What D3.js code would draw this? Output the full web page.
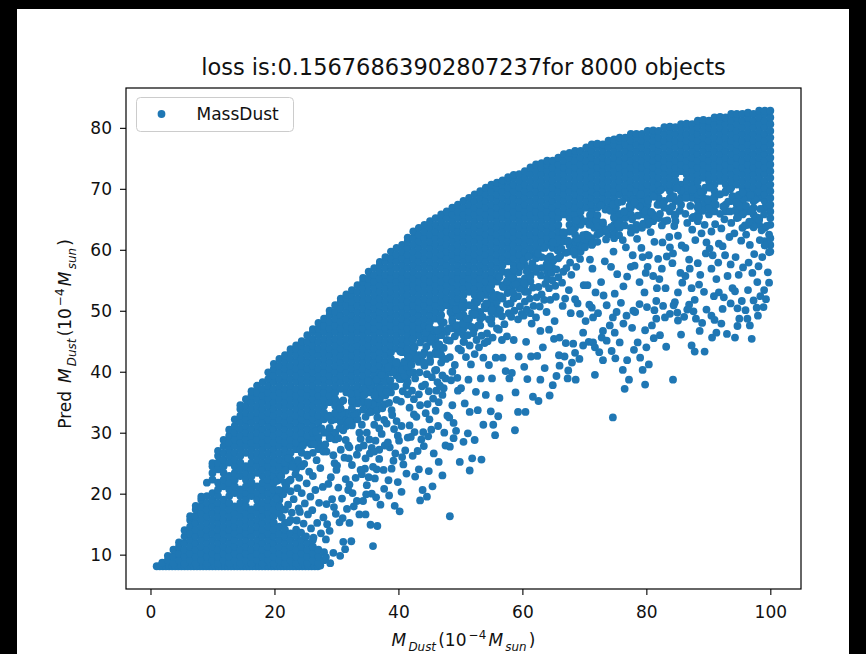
<!DOCTYPE html>
<html>
<head>
<meta charset="utf-8">
<script src="https://cdn.jsdelivr.net/npm/d3@7"></script>
<style>
html, body { margin: 0; padding: 0; background: #000; }
svg { display: block; }
text { font-family: "DejaVu Sans", sans-serif; fill: #111; }
</style>
</head>
<body>
<svg id="chart" width="866" height="654"></svg>
<script>
// chart texts
const title = "loss is:0.15676863902807237for 8000 objects";
const seriesName = "MassDust";
const xTicks = [0, 20, 40, 60, 80, 100];
const yTicks = [10, 20, 30, 40, 50, 60, 70, 80];

// floor of the cloud (small true mass, pred ~8)
const floorPts = [
  [1.0,8.1],[1.5,8.1],[2.0,8.1],[2.5,8.1],[3.0,8.1],[3.5,8.1],[4.0,8.1],[4.5,8.1],[5.0,8.1],[5.5,8.1],
  [6.0,8.1],[6.5,8.1],[7.0,8.1],[7.5,8.1],[8.0,8.1],[8.5,8.1],[9.0,8.1],[9.5,8.1],[10.0,8.1],[10.5,8.1],
  [11.0,8.1],[11.5,8.1],[12.0,8.1],[12.5,8.1],[13.0,8.1],[13.5,8.1],[14.0,8.1],[14.5,8.1],[15.0,8.1],[15.5,8.1],
  [16.0,8.1],[16.5,8.1],[17.0,8.1],[17.5,8.1],[18.0,8.1],[18.5,8.1],[19.0,8.1],[19.5,8.1],[20.0,8.1],[20.5,8.1],
  [21.0,8.1],[21.5,8.1],[22.0,8.1],[22.5,8.1],[23.0,8.1],[23.5,8.1],[24.0,8.1],[24.5,8.1],[25.0,8.1],[25.5,8.1],
  [26.0,8.1],[26.5,8.1],[27.0,8.1],[27.4,8.2]
];

// dense band, one entry per true-mass column: [x, pred, pred, ...]
const bandCols = [
  [1.9, 8.7],
  [2.8, 9.1, 9.8],
  [3.7, 8.6, 9.7, 10.8],
  [4.6, 9.1, 10.2, 11.3, 12.0],
  [5.5, 8.6, 9.7, 10.8, 11.9, 13.0, 14.0],
  [6.4, 9.1, 10.2, 11.3, 12.4, 13.5, 14.6, 15.7, 16.3],
  [7.3, 8.6, 9.7, 10.8, 11.9, 13.0, 14.1, 15.2, 16.3, 17.4, 18.0],
  [8.2, 9.1, 10.2, 11.3, 12.4, 13.5, 14.6, 15.7, 16.8, 17.9, 19.0, 19.5],
  [9.1, 8.6, 9.7, 10.8, 11.9, 13.0, 14.1, 15.2, 16.3, 17.4, 18.5, 19.6, 21.8],
  [10.0, 9.1, 10.2, 11.3, 12.4, 13.5, 14.6, 15.7, 16.8, 17.9, 19.0, 20.1, 22.3, 23.4, 24.5, 25.0],
  [10.9, 8.6, 9.7, 10.8, 11.9, 13.0, 14.1, 15.2, 16.3, 17.4, 18.5, 19.6, 20.7, 21.8, 24.0, 25.1, 26.2, 27.0],
  [11.8, 9.1, 10.2, 11.3, 12.4, 13.5, 14.6, 15.7, 16.8, 17.9, 19.0, 21.2, 22.3, 23.4, 24.5, 25.6, 26.7, 27.8, 28.8],
  [12.7, 8.6, 9.7, 10.8, 11.9, 13.0, 14.1, 15.2, 16.3, 17.4, 18.5, 19.6, 20.7, 21.8, 22.9, 25.1, 26.2, 27.3, 28.4, 29.5, 30.5],
  [13.6, 9.1, 10.2, 11.3, 12.4, 13.5, 14.6, 15.7, 16.8, 17.9, 20.1, 21.2, 22.3, 23.4, 24.5, 25.6, 26.7, 27.8, 28.9, 30.0, 31.1, 32.2],
  [14.5, 8.6, 9.7, 10.8, 11.9, 13.0, 14.1, 15.2, 16.3, 17.4, 18.5, 19.6, 20.7, 22.9, 24.0, 25.1, 26.2, 27.3, 28.4, 29.5, 30.6, 31.7, 32.8, 33.9, 34.5],
  [15.4, 9.1, 10.2, 11.3, 12.4, 13.5, 14.6, 15.7, 16.8, 17.9, 19.0, 20.1, 21.2, 22.3, 23.4, 24.5, 26.7, 27.8, 28.9, 30.0, 31.1, 32.2, 33.3, 34.4, 35.5],
  [16.3, 8.6, 9.7, 10.8, 11.9, 13.0, 14.1, 15.2, 16.3, 17.4, 19.6, 20.7, 21.8, 22.9, 24.0, 25.1, 26.2, 27.3, 28.4, 29.5, 30.6, 31.7, 32.8, 33.9, 35.0, 36.1, 36.8],
  [17.2, 9.1, 10.2, 11.3, 12.4, 13.5, 14.6, 15.7, 16.8, 17.9, 19.0, 20.1, 21.2, 23.4, 24.5, 25.6, 26.7, 27.8, 28.9, 30.0, 31.1, 32.2, 33.3, 34.4, 35.5, 36.6, 37.7],
  [18.1, 8.6, 9.7, 10.8, 11.9, 13.0, 14.1, 15.2, 16.3, 17.4, 18.5, 19.6, 20.7, 21.8, 22.9, 24.0, 25.1, 26.2, 27.3, 28.4, 29.5, 30.6, 31.7, 32.8, 33.9, 35.0, 36.1, 37.2, 38.3],
  [19.0, 9.1, 10.2, 11.3, 12.4, 13.5, 14.6, 15.7, 16.8, 17.9, 19.0, 20.1, 21.2, 22.3, 23.4, 24.5, 25.6, 26.7, 27.8, 28.9, 30.0, 31.1, 32.2, 33.3, 34.4, 35.5, 36.6, 37.7, 38.8, 39.9],
  [19.9, 8.6, 9.7, 10.8, 11.9, 13.0, 14.1, 15.2, 16.3, 17.4, 18.5, 19.6, 20.7, 21.8, 22.9, 24.0, 25.1, 26.2, 27.3, 28.4, 29.5, 30.6, 31.7, 32.8, 33.9, 35.0, 36.1, 37.2, 38.3, 39.4, 40.5, 41.3],
  [20.8, 9.1, 10.2, 11.3, 12.4, 13.5, 14.6, 16.8, 17.9, 19.0, 20.1, 22.3, 23.4, 24.5, 25.6, 26.7, 27.8, 28.9, 30.0, 31.1, 32.2, 33.3, 34.4, 35.5, 36.6, 37.7, 38.8, 39.9, 41.0, 42.1],
  [21.7, 8.6, 9.7, 10.8, 11.9, 13.0, 14.1, 15.2, 17.4, 20.7, 21.8, 24.0, 25.1, 26.2, 27.3, 28.4, 29.5, 30.6, 31.7, 32.8, 33.9, 35.0, 36.1, 37.2, 38.3, 39.4, 40.5, 41.6, 42.7],
  [22.6, 9.1, 10.2, 11.3, 12.4, 13.5, 15.7, 22.3, 24.5, 25.6, 26.7, 27.8, 28.9, 30.0, 31.1, 32.2, 33.3, 34.4, 35.5, 36.6, 37.7, 38.8, 39.9, 41.0, 42.1, 43.2, 43.7],
  [23.5, 8.6, 9.7, 10.8, 11.9, 13.0, 14.1, 24.0, 25.1, 27.3, 28.4, 29.5, 30.6, 31.7, 32.8, 33.9, 35.0, 36.1, 37.2, 38.3, 39.4, 40.5, 41.6, 42.7, 43.8, 44.3],
  [24.4, 9.1, 10.2, 11.3, 12.4, 24.5, 26.7, 27.8, 28.9, 30.0, 31.1, 32.2, 33.3, 34.4, 35.5, 36.6, 37.7, 38.8, 39.9, 41.0, 42.1, 43.2, 44.3, 45.0],
  [25.3, 8.6, 9.7, 10.8, 11.9, 26.2, 28.4, 29.5, 30.6, 31.7, 32.8, 33.9, 35.0, 36.1, 37.2, 38.3, 39.4, 40.5, 41.6, 42.7, 43.8, 44.9, 46.0],
  [26.2, 9.1, 10.2, 11.3, 12.4, 26.7, 28.9, 30.0, 31.1, 32.2, 33.3, 34.4, 35.5, 36.6, 37.7, 38.8, 39.9, 41.0, 42.1, 43.2, 44.3, 45.4, 46.5, 47.0],
  [27.1, 8.6, 9.7, 10.8, 27.3, 28.4, 30.6, 31.7, 32.8, 33.9, 35.0, 36.1, 37.2, 38.3, 39.4, 40.5, 41.6, 42.7, 43.8, 44.9, 46.0, 47.1, 48.0],
  [28.0, 9.1, 27.8, 30.0, 32.2, 33.3, 34.4, 35.5, 36.6, 37.7, 38.8, 39.9, 41.0, 42.1, 43.2, 44.3, 45.4, 46.5, 47.6, 48.7],
  [28.9, 29.5, 30.6, 32.8, 35.0, 36.1, 37.2, 38.3, 39.4, 40.5, 41.6, 42.7, 43.8, 44.9, 46.0, 47.1, 48.2, 49.3, 50.0],
  [29.8, 28.9, 30.0, 32.2, 33.3, 34.4, 35.5, 36.6, 37.7, 38.8, 39.9, 41.0, 42.1, 43.2, 44.3, 45.4, 46.5, 47.6, 48.7, 49.8, 50.9],
  [30.7, 31.7, 32.8, 33.9, 35.0, 37.2, 38.3, 39.4, 40.5, 41.6, 42.7, 43.8, 44.9, 46.0, 47.1, 48.2, 49.3, 50.4, 51.5, 52.0],
  [31.6, 31.1, 32.2, 33.3, 36.6, 37.7, 38.8, 39.9, 41.0, 42.1, 43.2, 44.3, 45.4, 46.5, 47.6, 48.7, 49.8, 50.9, 52.0, 52.7],
  [32.5, 31.7, 32.8, 35.0, 36.1, 37.2, 38.3, 39.4, 40.5, 41.6, 42.7, 43.8, 44.9, 46.0, 47.1, 48.2, 49.3, 50.4, 51.5, 52.6, 53.4],
  [33.4, 32.2, 33.3, 35.5, 36.6, 37.7, 38.8, 39.9, 41.0, 42.1, 43.2, 44.3, 45.4, 46.5, 47.6, 48.7, 49.8, 50.9, 52.0, 53.1, 54.2],
  [34.3, 35.0, 36.1, 37.2, 38.3, 39.4, 40.5, 41.6, 42.7, 43.8, 44.9, 46.0, 47.1, 48.2, 49.3, 50.4, 51.5, 52.6, 53.7, 54.8, 55.4],
  [35.2, 33.3, 34.4, 36.6, 37.7, 38.8, 39.9, 41.0, 42.1, 43.2, 44.3, 45.4, 46.5, 47.6, 48.7, 49.8, 50.9, 52.0, 53.1, 54.2, 55.3, 56.4],
  [36.1, 33.9, 35.0, 36.1, 37.2, 38.3, 39.4, 40.5, 41.6, 42.7, 43.8, 44.9, 46.0, 47.1, 48.2, 49.3, 50.4, 51.5, 52.6, 53.7, 54.8, 55.9, 57.0],
  [37.0, 34.4, 35.5, 36.6, 37.7, 38.8, 39.9, 41.0, 42.1, 43.2, 44.3, 45.4, 46.5, 47.6, 48.7, 49.8, 50.9, 52.0, 53.1, 54.2, 55.3, 56.4, 57.5, 58.0],
  [37.9, 36.1, 37.2, 38.3, 39.4, 40.5, 41.6, 42.7, 43.8, 44.9, 46.0, 47.1, 48.2, 49.3, 50.4, 51.5, 52.6, 53.7, 54.8, 55.9, 57.0, 58.1, 58.8],
  [38.8, 36.6, 37.7, 39.9, 41.0, 42.1, 43.2, 44.3, 45.4, 46.5, 47.6, 48.7, 49.8, 50.9, 52.0, 53.1, 54.2, 55.3, 56.4, 57.5, 58.6, 59.7],
  [39.7, 39.4, 40.5, 41.6, 43.8, 44.9, 46.0, 47.1, 48.2, 49.3, 50.4, 51.5, 52.6, 53.7, 54.8, 55.9, 57.0, 58.1, 59.2, 60.3],
  [40.6, 38.8, 39.9, 41.0, 43.2, 44.3, 45.4, 46.5, 47.6, 48.7, 49.8, 50.9, 52.0, 53.1, 54.2, 55.3, 56.4, 57.5, 58.6, 59.7, 60.8],
  [41.5, 38.3, 39.4, 40.5, 41.6, 42.7, 43.8, 44.9, 46.0, 47.1, 48.2, 49.3, 50.4, 51.5, 52.6, 53.7, 54.8, 55.9, 57.0, 58.1, 59.2, 60.3, 61.4, 62.0],
  [42.4, 39.9, 42.1, 43.2, 44.3, 45.4, 46.5, 47.6, 48.7, 49.8, 50.9, 52.0, 53.1, 54.2, 55.3, 56.4, 57.5, 58.6, 59.7, 60.8, 61.9, 63.0],
  [43.3, 41.6, 42.7, 46.0, 47.1, 48.2, 49.3, 50.4, 51.5, 52.6, 53.7, 54.8, 55.9, 57.0, 58.1, 59.2, 60.3, 61.4, 62.5, 63.6],
  [44.2, 41.0, 43.2, 45.4, 46.5, 47.6, 48.7, 49.8, 50.9, 52.0, 53.1, 54.2, 55.3, 56.4, 57.5, 58.6, 59.7, 60.8, 61.9, 63.0, 64.1],
  [45.1, 41.6, 42.7, 44.9, 46.0, 47.1, 48.2, 49.3, 50.4, 51.5, 52.6, 53.7, 54.8, 55.9, 57.0, 58.1, 59.2, 60.3, 61.4, 62.5, 63.6, 64.7],
  [46.0, 43.2, 44.3, 45.4, 46.5, 48.7, 49.8, 50.9, 52.0, 53.1, 54.2, 55.3, 56.4, 57.5, 58.6, 59.7, 60.8, 61.9, 63.0, 64.1, 65.2],
  [46.9, 42.7, 43.8, 46.0, 47.1, 48.2, 49.3, 50.4, 51.5, 52.6, 53.7, 54.8, 55.9, 57.0, 58.1, 59.2, 60.3, 61.4, 62.5, 63.6, 64.7, 65.8],
  [47.8, 46.5, 50.9, 52.0, 53.1, 54.2, 55.3, 56.4, 57.5, 58.6, 59.7, 60.8, 61.9, 63.0, 64.1, 65.2, 66.3],
  [48.7, 47.1, 48.2, 49.3, 50.4, 51.5, 52.6, 53.7, 54.8, 55.9, 57.0, 58.1, 59.2, 60.3, 61.4, 62.5, 63.6, 64.7, 65.8, 66.9],
  [49.6, 46.5, 47.6, 49.8, 50.9, 52.0, 53.1, 54.2, 55.3, 56.4, 57.5, 58.6, 59.7, 60.8, 61.9, 63.0, 64.1, 65.2, 66.3, 67.4],
  [50.5, 44.9, 46.0, 47.1, 48.2, 49.3, 50.4, 51.5, 52.6, 53.7, 54.8, 55.9, 57.0, 58.1, 59.2, 60.3, 61.4, 62.5, 63.6, 64.7, 65.8, 66.9, 68.0],
  [51.4, 47.6, 48.7, 50.9, 53.1, 54.2, 55.3, 56.4, 57.5, 58.6, 59.7, 60.8, 61.9, 63.0, 64.1, 65.2, 66.3, 67.4, 68.5],
  [52.3, 47.1, 49.3, 50.4, 51.5, 52.6, 53.7, 54.8, 55.9, 57.0, 58.1, 59.2, 60.3, 61.4, 62.5, 63.6, 64.7, 65.8, 66.9, 68.0, 69.1],
  [53.2, 47.6, 48.7, 49.8, 52.0, 53.1, 54.2, 55.3, 56.4, 57.5, 58.6, 59.7, 60.8, 61.9, 63.0, 64.1, 65.2, 66.3, 67.4, 68.5, 69.6],
  [54.1, 50.4, 52.6, 53.7, 54.8, 55.9, 57.0, 58.1, 59.2, 60.3, 61.4, 62.5, 63.6, 64.7, 65.8, 66.9, 68.0, 69.1, 70.2],
  [55.0, 48.7, 49.8, 50.9, 52.0, 53.1, 54.2, 55.3, 56.4, 57.5, 58.6, 59.7, 60.8, 61.9, 63.0, 64.1, 65.2, 66.3, 67.4, 68.5, 69.6, 70.7],
  [55.9, 50.4, 51.5, 52.6, 54.8, 55.9, 57.0, 58.1, 59.2, 60.3, 61.4, 62.5, 63.6, 64.7, 65.8, 66.9, 68.0, 69.1, 70.2, 71.0],
  [56.8, 52.0, 54.2, 56.4, 57.5, 58.6, 59.7, 60.8, 61.9, 63.0, 64.1, 65.2, 66.3, 67.4, 68.5, 69.6, 70.7, 71.4],
  [57.7, 53.7, 54.8, 55.9, 58.1, 59.2, 60.3, 61.4, 62.5, 63.6, 64.7, 65.8, 66.9, 68.0, 69.1, 70.2, 71.3, 71.9],
  [58.6, 52.0, 54.2, 55.3, 56.4, 57.5, 58.6, 59.7, 60.8, 61.9, 63.0, 64.1, 65.2, 66.3, 67.4, 68.5, 69.6, 70.7, 71.8, 72.3],
  [59.5, 53.7, 54.8, 57.0, 58.1, 59.2, 60.3, 61.4, 62.5, 63.6, 64.7, 65.8, 66.9, 68.0, 69.1, 70.2, 71.3, 72.4],
  [60.4, 53.1, 54.2, 55.3, 57.5, 58.6, 59.7, 60.8, 61.9, 63.0, 64.1, 65.2, 66.3, 67.4, 68.5, 69.6, 70.7, 71.8, 72.9],
  [61.3, 54.8, 55.9, 57.0, 59.2, 60.3, 61.4, 62.5, 63.6, 64.7, 65.8, 66.9, 68.0, 69.1, 70.2, 71.3, 72.4, 73.5],
  [62.2, 56.4, 58.6, 59.7, 60.8, 61.9, 63.0, 64.1, 65.2, 66.3, 67.4, 68.5, 69.6, 70.7, 71.8, 72.9, 74.0],
  [63.1, 57.0, 60.3, 61.4, 62.5, 63.6, 64.7, 65.8, 66.9, 68.0, 69.1, 70.2, 71.3, 72.4, 73.5, 74.2],
  [64.0, 55.3, 56.4, 57.5, 58.6, 60.8, 61.9, 63.0, 64.1, 65.2, 66.3, 67.4, 68.5, 69.6, 70.7, 71.8, 72.9, 74.0, 74.6],
  [64.9, 57.0, 58.1, 60.3, 61.4, 62.5, 63.6, 64.7, 65.8, 66.9, 68.0, 69.1, 70.2, 71.3, 72.4, 73.5, 74.6],
  [65.8, 58.6, 60.8, 61.9, 63.0, 64.1, 65.2, 66.3, 67.4, 68.5, 69.6, 70.7, 71.8, 72.9, 74.0, 75.1],
  [66.7, 61.4, 62.5, 65.8, 66.9, 68.0, 69.1, 70.2, 71.3, 72.4, 73.5, 74.6, 75.7],
  [67.6, 59.7, 60.8, 63.0, 64.1, 65.2, 66.3, 67.4, 68.5, 69.6, 70.7, 71.8, 72.9, 74.0, 75.1, 75.9],
  [68.5, 59.2, 60.3, 61.4, 62.5, 63.6, 64.7, 65.8, 66.9, 68.0, 69.1, 70.2, 71.3, 72.4, 73.5, 74.6, 75.7, 76.2],
  [69.4, 59.7, 60.8, 61.9, 64.1, 65.2, 66.3, 67.4, 68.5, 69.6, 70.7, 71.8, 72.9, 74.0, 75.1, 76.2],
  [70.3, 61.4, 62.5, 64.7, 66.9, 68.0, 69.1, 70.2, 71.3, 72.4, 73.5, 74.6, 75.7, 76.8],
  [71.2, 60.8, 61.9, 64.1, 65.2, 66.3, 67.4, 68.5, 69.6, 70.7, 71.8, 72.9, 74.0, 75.1, 76.2, 77.3],
  [72.1, 62.5, 63.6, 64.7, 66.9, 68.0, 69.1, 70.2, 71.3, 72.4, 73.5, 74.6, 75.7, 76.8, 77.4],
  [73.0, 63.0, 64.1, 67.4, 68.5, 69.6, 70.7, 71.8, 72.9, 74.0, 75.1, 76.2, 77.3],
  [73.9, 62.5, 66.9, 68.0, 69.1, 70.2, 71.3, 72.4, 73.5, 74.6, 75.7, 76.8, 77.9],
  [74.8, 61.9, 63.0, 64.1, 65.2, 66.3, 67.4, 68.5, 69.6, 70.7, 71.8, 72.9, 74.0, 75.1, 76.2, 77.3, 78.1],
  [75.7, 63.6, 64.7, 65.8, 69.1, 70.2, 71.3, 72.4, 73.5, 74.6, 75.7, 76.8, 77.9, 78.4],
  [76.6, 65.2, 66.3, 68.5, 69.6, 70.7, 71.8, 72.9, 74.0, 75.1, 76.2, 77.3, 78.4],
  [77.5, 63.6, 65.8, 66.9, 68.0, 69.1, 70.2, 71.3, 72.4, 73.5, 74.6, 75.7, 76.8, 77.9, 79.0],
  [78.4, 64.1, 67.4, 68.5, 69.6, 70.7, 71.8, 72.9, 74.0, 75.1, 76.2, 77.3, 78.4, 79.0],
  [79.3, 63.6, 65.8, 66.9, 68.0, 69.1, 70.2, 71.3, 72.4, 73.5, 74.6, 75.7, 76.8, 77.9, 79.0],
  [80.2, 64.1, 65.2, 66.3, 67.4, 68.5, 69.6, 70.7, 71.8, 72.9, 74.0, 75.1, 76.2, 77.3, 78.4, 79.5],
  [81.1, 64.7, 65.8, 69.1, 70.2, 71.3, 72.4, 73.5, 74.6, 75.7, 76.8, 77.9, 79.0, 79.6],
  [82.0, 65.2, 67.4, 68.5, 69.6, 70.7, 71.8, 72.9, 74.0, 75.1, 76.2, 77.3, 78.4, 79.5],
  [82.9, 64.7, 66.9, 68.0, 70.2, 71.3, 72.4, 73.5, 74.6, 75.7, 76.8, 77.9, 79.0, 80.1],
  [83.8, 66.3, 68.5, 69.6, 70.7, 71.8, 72.9, 74.0, 75.1, 76.2, 77.3, 78.4, 79.5, 80.2],
  [84.7, 64.7, 65.8, 68.0, 70.2, 71.3, 72.4, 73.5, 74.6, 75.7, 76.8, 77.9, 79.0, 80.1],
  [85.6, 67.4, 68.5, 69.6, 70.7, 72.9, 74.0, 75.1, 76.2, 77.3, 78.4, 79.5, 80.6],
  [86.5, 69.1, 70.2, 71.3, 72.4, 73.5, 74.6, 75.7, 76.8, 77.9, 79.0, 80.1, 80.7],
  [87.4, 65.2, 68.5, 69.6, 70.7, 71.8, 72.9, 74.0, 75.1, 76.2, 77.3, 78.4, 79.5, 80.6],
  [88.3, 64.7, 65.8, 66.9, 68.0, 69.1, 70.2, 71.3, 72.4, 73.5, 74.6, 75.7, 76.8, 77.9, 79.0, 80.1, 81.2],
  [89.2, 67.4, 68.5, 69.6, 71.8, 72.9, 74.0, 75.1, 76.2, 77.3, 78.4, 79.5, 80.6, 81.3],
  [90.1, 65.8, 66.9, 68.0, 70.2, 71.3, 72.4, 73.5, 74.6, 75.7, 76.8, 77.9, 79.0, 80.1, 81.2],
  [91.0, 66.3, 67.4, 68.5, 69.6, 70.7, 71.8, 72.9, 74.0, 75.1, 76.2, 77.3, 78.4, 79.5, 80.6, 81.7],
  [91.9, 69.1, 71.3, 72.4, 73.5, 74.6, 75.7, 76.8, 77.9, 79.0, 80.1, 81.2, 81.8],
  [92.8, 66.3, 67.4, 69.6, 70.7, 71.8, 72.9, 74.0, 75.1, 76.2, 77.3, 78.4, 79.5, 80.6, 81.7],
  [93.7, 68.0, 70.2, 71.3, 72.4, 73.5, 74.6, 75.7, 76.8, 77.9, 79.0, 80.1, 81.2, 82.3],
  [94.6, 65.2, 66.3, 67.4, 68.5, 70.7, 71.8, 72.9, 74.0, 75.1, 76.2, 77.3, 78.4, 79.5, 80.6, 81.7, 82.3],
  [95.5, 63.6, 65.8, 66.9, 68.0, 69.1, 70.2, 71.3, 72.4, 73.5, 74.6, 75.7, 76.8, 77.9, 79.0, 80.1, 81.2, 82.3],
  [96.4, 64.1, 66.3, 68.5, 69.6, 70.7, 71.8, 72.9, 74.0, 75.1, 76.2, 77.3, 78.4, 79.5, 80.6, 81.7, 82.5],
  [97.3, 64.7, 65.8, 66.9, 68.0, 69.1, 70.2, 71.3, 72.4, 73.5, 74.6, 75.7, 76.8, 77.9, 79.0, 80.1, 81.2, 82.3],
  [98.2, 64.1, 65.2, 68.5, 69.6, 70.7, 71.8, 72.9, 74.0, 75.1, 76.2, 77.3, 78.4, 79.5, 80.6, 81.7, 82.8],
  [99.1, 61.4, 63.6, 66.9, 68.0, 69.1, 70.2, 71.3, 72.4, 73.5, 74.6, 75.7, 76.8, 77.9, 79.0, 80.1, 81.2, 82.3, 82.8],
  [100.0, 59.7, 60.8, 61.9, 64.1, 65.2, 66.3, 67.4, 68.5, 69.6, 70.7, 71.8, 72.9, 74.0, 75.1, 76.2, 77.3, 78.4, 79.5, 80.6, 81.7, 82.8]
];

// loose points right of the low blob (true 20-28)
const scatterLeft = [
  [21.2,16.1],[20.3,19.2],[21.4,19.9],[20.7,20.6],[21.9,21.3],[20.4,22.1],[21.1,22.9],[21.8,23.8],
  [22.3,15.3],[23.6,15.6],[22.8,16.9],[23.9,17.6],[22.2,18.2],[23.1,19.1],[22.6,20.4],[23.7,20.9],[22.4,22.1],[23.4,23.2],[22.9,24.4],[23.8,25.5],[22.2,25.8],
  [24.3,13.6],[25.1,13.0],[25.9,14.3],[24.7,15.1],[25.4,16.6],[24.1,17.0],[24.9,18.4],[25.8,19.5],[24.4,20.1],[25.2,21.7],[24.0,22.6],[25.6,23.6],[24.8,24.9],[25.3,26.4],[24.2,27.2],[25.9,28.1],[24.6,27.9],
  [26.3,12.8],[27.5,13.5],[26.9,15.2],[27.9,16.1],[26.1,17.3],[27.2,18.5],[26.6,20.6],[27.8,21.1],[26.2,22.9],[27.4,24.2],[26.8,25.5],[27.9,26.9],[26.4,28.1],[27.1,29.3],[26.7,30.2],[27.6,30.7],
  [28.0,10.4],[29.0,8.6]
];

// loose points under the band (true 28-66)
const scatterMid = [
  [28.3,9.6],[29.5,10.3],[28.3,12.5],[28.5,15.0],[29.9,16.7],[29.3,19.1],[28.7,21.6],[29.7,25.0],[29.5,26.3],[28.4,26.9],[28.2,28.1],[28.9,29.1],[28.5,30.1],[28.9,30.8],[29.2,32.0],[28.6,32.6],
  [30.6,9.8],[31.4,10.9],[31.1,12.1],[30.5,15.3],[31.7,17.5],[30.3,21.0],[31.5,22.4],[31.3,25.9],[30.7,27.2],[31.9,27.9],[31.5,28.8],[30.3,29.1],[31.1,30.4],[30.5,30.7],[31.9,31.8],[30.9,33.2],[30.6,34.0],[31.1,35.3],
  [32.4,12.2],[32.1,15.2],[33.7,16.6],[33.3,18.8],[32.1,21.5],[32.5,24.7],[33.3,26.4],[32.1,27.6],[33.9,29.0],[33.7,30.0],[32.5,31.2],[32.1,31.9],[32.9,33.1],[32.5,34.0],[33.4,34.8],[32.5,35.3],[32.3,36.4],
  [35.9,11.4],[35.5,14.9],[34.7,16.6],[34.3,18.8],[35.7,20.0],[35.2,22.7],[34.6,24.1],[34.7,25.8],[35.7,27.5],[34.4,27.9],[35.3,28.9],[34.9,30.0],[34.1,31.3],[34.7,32.6],[35.6,33.4],[34.3,33.8],[35.9,34.6],[35.1,35.0],[34.5,36.2],[35.4,36.8],[34.7,37.3],[35.5,37.8],[35.1,38.4],
  [36.6,14.7],[37.1,18.2],[36.4,19.4],[37.7,20.8],[36.5,24.0],[36.9,27.2],[36.3,28.7],[37.3,29.8],[36.9,30.7],[36.1,31.3],[37.7,32.1],[36.6,32.5],[36.5,33.6],[37.4,34.0],[37.9,34.7],[36.8,35.6],[36.2,36.1],[37.4,36.5],[37.1,37.3],[36.5,38.7],[37.3,39.5],
  [39.4,18.0],[38.5,19.7],[39.9,21.9],[39.2,25.4],[38.6,27.6],[39.9,29.5],[38.1,31.5],[39.7,31.9],[39.0,32.9],[38.9,33.7],[38.5,34.9],[39.7,35.4],[38.1,36.7],[39.5,37.6],[38.7,38.6],[39.1,40.0],[38.3,40.7],[39.6,41.5],
  [40.2,17.1],[40.5,20.3],[41.3,23.3],[40.6,26.0],[41.5,29.2],[40.5,31.1],[41.8,34.1],[40.4,35.1],[41.5,36.3],[40.7,36.8],[41.3,37.7],[40.2,38.8],[41.0,39.4],[41.9,39.9],[40.6,40.3],[41.4,40.8],[40.9,41.6],[41.6,42.4],[40.3,43.3],
  [43.5,18.9],[43.9,20.6],[42.7,22.8],[43.3,24.0],[42.3,26.2],[43.7,28.9],[42.6,30.1],[42.9,32.6],[43.5,34.5],[42.5,35.5],[43.3,36.3],[42.2,36.9],[43.8,37.6],[42.7,38.9],[43.4,39.9],[42.1,41.1],[43.0,42.1],[43.9,42.7],[42.6,44.0],[43.5,44.8],[42.3,45.4],
  [44.6,19.5],[45.5,21.2],[44.9,23.7],[45.7,26.6],[44.1,27.8],[45.3,30.5],[44.4,33.2],[44.7,34.7],[45.6,35.6],[44.9,36.8],[44.3,37.9],[45.4,39.1],[44.6,39.6],[45.9,40.2],[44.1,41.5],[45.1,41.9],[45.9,42.9],[44.5,44.1],[45.3,45.5],[44.4,46.4],[45.7,46.8],[45.0,47.2],
  [47.1,23.0],[46.5,25.2],[47.6,27.9],[46.4,31.1],[47.9,32.8],[47.1,36.2],[46.1,36.9],[47.3,37.3],[46.7,37.7],[46.3,38.3],[47.6,38.9],[47.1,39.4],[46.1,40.3],[46.9,41.5],[47.7,42.1],[46.4,42.9],[47.3,43.9],[46.6,44.5],[47.8,45.2],[46.9,46.0],[46.3,46.8],[47.3,48.1],[46.7,48.6],
  [48.3,16.3],[49.9,25.2],[48.3,27.7],[48.9,29.1],[49.3,30.3],[48.2,32.5],[48.7,34.5],[49.6,36.9],[48.5,38.6],[49.5,39.0],[48.7,40.0],[49.1,41.1],[48.3,42.4],[49.7,43.8],[48.3,45.1],[49.1,45.8],[48.1,47.1],[49.4,47.6],[48.7,48.6],[49.8,49.1],[48.4,49.8],[49.3,50.2],
  [51.5,23.8],[51.9,25.8],[50.5,28.5],[51.2,29.9],[51.5,33.4],[50.7,34.8],[50.1,37.3],[51.3,38.7],[51.7,41.2],[50.9,42.4],[50.1,43.5],[51.5,44.3],[50.6,44.9],[51.2,46.0],[51.9,47.3],[50.4,47.9],[51.0,48.7],[51.9,49.6],[50.3,50.7],
  [53.4,25.6],[52.3,28.8],[53.7,31.3],[52.8,33.7],[52.5,36.7],[53.3,38.9],[53.7,42.3],[52.3,42.9],[53.0,44.0],[53.9,44.7],[52.6,45.2],[53.4,45.9],[52.1,46.3],[52.9,47.6],[53.6,49.0],[52.3,49.5],[53.9,50.8],[52.7,51.4],[53.3,52.5],
  [55.6,29.6],[55.3,31.3],[54.9,33.5],[54.1,36.2],[55.1,38.9],[54.6,41.1],[55.7,42.3],[54.4,45.0],[55.2,45.6],[54.3,46.3],[55.9,47.1],[55.0,47.9],[54.6,48.6],[55.9,49.5],[55.1,50.1],[54.2,51.2],[55.5,52.3],[54.7,53.6],
  [56.1,32.7],[56.3,35.7],[57.9,38.9],[57.3,40.1],[56.8,42.3],[56.7,45.2],[57.5,45.8],[56.2,46.9],[57.1,47.8],[56.7,49.1],[57.8,49.6],[56.4,50.1],[57.5,51.1],[56.5,52.4],[57.6,52.9],[56.9,53.9],[57.5,54.8],[56.3,55.5],[57.7,56.3],
  [58.8,30.4],[59.3,33.4],[58.9,36.6],[58.3,39.8],[59.4,42.5],[58.6,45.2],[59.3,48.6],[58.2,49.0],[59.9,49.5],[58.7,50.0],[59.6,50.7],[58.1,51.2],[59.3,52.4],[58.5,53.0],[59.8,53.6],[58.9,54.4],[58.3,55.4],[59.4,56.3],[58.6,56.8],[59.7,57.3],
  [60.5,33.4],[61.7,35.9],[60.8,38.8],[60.3,40.8],[61.4,42.5],[60.6,44.9],[61.5,47.9],[60.2,49.2],[61.3,49.6],[60.7,50.2],[61.8,50.8],[60.4,51.5],[61.2,52.0],[60.9,53.1],[61.7,53.8],[60.3,54.5],[61.3,55.7],[60.7,56.5],[61.6,57.8],[60.2,58.3],[61.0,58.9],
  [62.6,35.2],[62.9,38.7],[63.6,40.6],[62.4,42.6],[63.3,44.0],[62.9,46.7],[62.2,48.9],[63.9,49.8],[62.8,50.7],[63.5,51.8],[62.3,52.2],[63.1,52.7],[62.6,53.9],[63.7,54.4],[63.0,55.8],[62.2,57.0],[63.9,57.6],[63.1,58.8],[62.5,59.4],[63.6,60.3],
  [64.4,36.1],[64.9,37.8],[65.5,39.3],[65.9,42.7],[65.1,45.4],[64.3,46.9],[65.2,48.3],[64.5,51.8],[65.4,52.3],[64.3,53.7],[65.3,54.1],[64.8,55.0],[65.8,55.5],[64.7,56.2],[65.5,56.8],[64.2,57.2],[65.1,58.4],[64.5,58.9],[65.7,59.9],[64.9,61.2],
  [28.9,13.9],[29.6,17.8],[28.4,18.3],[29.1,22.7],[30.0,23.9],[30.9,19.2],[31.9,20.6],[30.1,24.6],[31.0,16.0],[32.8,17.9],[33.1,22.6],[32.6,20.1],[33.9,23.9],[32.0,25.8],[33.6,27.5],
  [34.9,21.4],[34.1,23.2],[35.9,24.4],[35.4,26.6],[34.8,19.9],[36.2,22.5],[37.6,23.9],[36.9,25.7],[37.8,27.9],[36.1,26.9],[38.4,22.2],[38.9,24.1],[39.5,26.6],[38.3,28.4],[39.3,30.6],
  [40.1,28.7],[41.1,27.1],[40.8,24.8],[41.8,31.2],[42.0,29.3],[43.1,27.0],[42.5,33.0],[44.0,30.1],[45.0,32.2],[44.8,29.4],[46.0,33.6],[47.4,30.0],[46.5,35.0],[48.9,31.6]
];

// loose points under the band, lower part (true 66-100)
const scatterLow = [
  [74.6,32.5],[76.5,37.2],[79.8,37.9],[84.3,38.7],[89.4,43.3],[97.0,45.4],[67.3,38.9],[68.6,38.7],[71.7,39.5],[73.0,41.9],
  [76.2,40.3],[77.2,38.7],[79.4,40.3],[80.4,41.2],[79.0,42.3],[76.9,41.9],[87.3,44.3],[87.8,43.3],[90.6,45.6],[91.3,46.4],
  [93.0,46.2],[94.3,45.6],[96.7,47.6],[95.0,48.7],[98.0,49.2],[97.8,50.5],[92.3,50.3],[90.5,49.2],[89.0,48.0],[88.0,48.7],
  [85.0,49.7],[85.1,48.4],[83.8,49.5],[82.2,46.0],[80.9,47.6],[81.6,48.7],[82.7,50.8],[79.8,46.8],[78.6,44.8],[80.0,44.0],
  [77.7,47.2],[77.9,50.0],[76.8,49.2],[74.6,48.9],[74.1,47.6],[74.9,46.4],[75.7,44.8],[74.4,43.4],[72.8,45.6],[71.4,44.8],
  [71.7,44.0],[73.0,46.7],[71.4,48.9],[71.2,50.5],[69.3,49.5],[69.8,46.4],[69.8,44.3],[68.5,43.1],[68.2,44.6],[66.0,45.6],
  [66.8,42.5],[67.4,40.2],[68.0,41.5],[66.0,41.0],[99.0,53.4],[73.6,45.1],
  [66.5,50.8],[67.8,49.6],[68.9,51.2],[70.2,48.3],[70.8,51.0],[72.2,49.6],[73.6,50.9],[75.2,49.8],[75.9,51.3],[76.3,47.9],
  [78.2,49.8],[78.9,51.1],[80.1,50.6],[81.3,50.1],[83.0,48.9],[84.4,50.9],[86.1,49.0],[86.9,51.0],[87.6,49.9],[89.7,50.2],
  [91.0,48.5],[93.6,51.2],[94.7,47.5],[96.0,50.1],[96.3,48.7],[99.3,51.9],
  [67.0,44.7],[69.2,42.1],[70.7,44.9],[72.4,43.2],[75.0,42.2],[78.0,43.6],[81.2,45.5],[83.2,44.1],[85.6,46.1],[88.6,46.7],[92.1,47.9]
];

// loose points under the band, upper part (true 66-100)
const scatterHigh = [
  [66.9,52.0],[67.5,53.4],[66.4,54.6],[67.9,55.9],[66.6,56.4],[67.1,57.0],[67.7,57.9],[66.1,59.0],[67.0,59.5],[66.3,60.2],[67.4,61.5],[66.6,62.9],
  [68.5,51.9],[69.9,54.2],[68.7,57.2],[69.3,58.5],[68.3,59.7],[69.6,60.5],[68.8,61.8],[69.8,62.4],[68.1,63.2],[69.4,64.3],[68.7,64.8],
  [70.5,54.2],[71.3,56.9],[70.1,60.4],[71.3,61.0],[70.6,62.3],[71.6,63.6],[70.8,64.1],[71.9,64.8],[70.9,65.7],[71.8,53.0],[70.9,58.4],
  [73.1,52.5],[72.7,54.7],[73.3,58.1],[72.1,61.3],[73.5,61.7],[72.5,62.7],[73.6,63.3],[72.2,63.9],[73.0,64.5],[72.1,65.7],[73.4,66.6],[72.6,67.3],
  [74.9,52.8],[75.3,56.0],[74.3,57.2],[74.7,59.7],[75.6,62.4],[74.3,63.7],[75.4,64.2],[74.8,65.4],[75.7,65.9],[74.2,66.4],[75.1,66.9],[74.6,67.4],[75.5,67.8],
  [76.3,54.0],[77.5,57.2],[76.7,60.4],[77.5,62.8],[76.5,64.0],[77.7,65.0],[76.4,66.3],[77.3,67.2],[76.1,67.9],[77.9,68.3],[76.9,55.6],[77.8,59.1],[76.2,61.6],
  [79.7,53.0],[78.9,54.7],[78.1,57.4],[79.2,60.3],[78.3,63.3],[79.5,64.3],[78.6,65.6],[79.8,66.4],[78.9,67.1],[78.1,67.8],[79.1,69.1],[79.4,58.8],[78.5,61.8],[79.9,56.2],
  [81.7,53.7],[81.1,55.7],[80.4,59.1],[81.3,61.3],[80.5,64.5],[81.5,65.4],[80.8,66.2],[81.8,67.4],[80.3,68.1],[81.2,68.7],[80.2,57.2],[81.9,58.5],[80.7,62.9],[81.6,51.6],
  [83.1,53.7],[82.5,56.9],[83.3,58.9],[83.7,62.1],[82.5,64.0],[83.4,64.8],[82.2,65.9],[83.5,66.8],[82.7,67.5],[83.8,68.4],[82.3,69.8],[82.1,55.2],[83.8,60.4],[82.6,61.2],
  [85.1,53.0],[85.5,56.2],[84.3,59.4],[85.1,62.3],[84.6,65.5],[85.4,66.4],[84.2,67.1],[85.2,68.1],[84.4,68.8],[85.6,69.7],[84.9,70.1],[84.6,51.4],[85.8,54.6],[84.2,57.8],[85.7,60.7],[84.5,63.9],
  [87.3,53.7],[86.3,55.7],[87.0,56.9],[86.3,60.3],[87.4,63.3],[86.6,64.4],[87.6,65.4],[86.3,65.9],[87.1,67.2],[86.4,68.5],[87.5,69.9],[86.6,50.2],[87.8,51.8],[86.9,58.4],[87.9,61.6],
  [89.3,53.1],[88.5,54.3],[88.3,57.8],[89.7,61.2],[88.9,62.7],[89.4,64.1],[88.5,65.4],[89.1,66.4],[88.3,67.1],[89.9,68.3],[88.8,69.5],[89.5,70.2],[88.7,55.9],[89.6,59.4],
  [91.7,53.0],[91.3,55.2],[90.5,56.9],[90.7,59.1],[91.7,61.0],[90.5,63.0],[91.9,65.9],[90.1,66.8],[91.2,67.4],[90.9,68.6],[91.8,69.1],[90.3,70.2],[90.9,52.4],[91.6,57.9],[90.2,60.2],[91.1,64.2],
  [93.9,53.7],[93.1,55.7],[92.7,59.1],[93.4,62.1],[92.1,63.5],[93.7,64.4],[92.6,65.0],[93.5,66.3],[92.4,67.1],[93.2,67.9],[93.9,68.8],[92.7,69.4],[93.5,69.9],[92.5,52.2],[93.6,57.6],[92.3,60.6],
  [94.3,53.2],[94.9,55.9],[95.6,57.1],[94.4,58.8],[95.3,61.5],[94.2,62.7],[95.9,64.0],[94.8,65.3],[95.6,65.9],[94.3,66.4],[95.2,67.1],[94.5,67.8],[95.7,68.4],[94.9,69.0],[95.5,69.4],[95.4,51.6],[94.7,50.4],
  [97.3,51.7],[97.9,54.7],[96.5,57.9],[97.4,59.3],[96.1,62.5],[97.3,63.7],[96.6,64.6],[97.8,65.3],[96.9,66.5],[96.1,67.2],[97.6,68.2],[96.8,69.0],[96.4,53.4],[97.1,56.2],[96.7,60.8],
  [98.9,50.6],[98.4,52.4],[99.8,54.6],[98.1,57.3],[99.1,60.7],[98.3,61.6],[99.8,62.5],[98.6,63.2],[99.4,63.9],[98.2,64.9],[99.0,65.8],[98.4,66.7],[99.6,56.3],[98.7,58.8],[99.8,59.6]
];

// flatten everything into [true, pred] pairs
const bandPts = bandCols.flatMap(c => c.slice(1).map(v => [c[0], v]));
const points = floorPts.concat(bandPts, scatterLeft, scatterMid, scatterLow, scatterHigh);

const W = 866, H = 654;
const axL = 126, axR = 801, axT = 88, axB = 589;
const blue = "#1f77b4";

const svg = d3.select("#chart");

// white figure area on black
svg.append("rect").attr("x", 17).attr("y", 9).attr("width", 832).attr("height", H - 9).attr("fill", "#fff");

// matplotlib-like 5% margins
const xExt = d3.extent(points, d => d[0]);
const yExt = d3.extent(points, d => d[1]);
const xPad = (xExt[1] - xExt[0]) * 0.05, yPad = (yExt[1] - yExt[0]) * 0.05;
const x = d3.scaleLinear().domain([xExt[0] - xPad, xExt[1] + xPad]).range([axL, axR]);
const y = d3.scaleLinear().domain([yExt[0] - yPad, yExt[1] + yPad]).range([axB, axT]);

svg.append("g")
  .selectAll("circle")
  .data(points)
  .join("circle")
  .attr("cx", d => x(d[0]))
  .attr("cy", d => y(d[1]))
  .attr("r", 3.9)
  .attr("fill", blue);

// axes
const xAxis = svg.append("g")
  .attr("transform", `translate(0,${axB})`)
  .call(d3.axisBottom(x).tickValues(xTicks).tickSize(6).tickPadding(11));
const yAxis = svg.append("g")
  .attr("transform", `translate(${axL},0)`)
  .call(d3.axisLeft(y).tickValues(yTicks).tickSize(6).tickPadding(8));
[xAxis, yAxis].forEach(a => {
  a.select(".domain").remove();
  a.selectAll(".tick line").attr("stroke", "#000").attr("stroke-width", 1.1);
  a.selectAll(".tick text").attr("font-size", 17).attr("font-family", "DejaVu Sans").attr("fill", "#111");
});

svg.append("rect")
  .attr("x", axL).attr("y", axT)
  .attr("width", axR - axL).attr("height", axB - axT)
  .attr("fill", "none").attr("stroke", "#000").attr("stroke-width", 1.2);

// title
svg.append("text")
  .attr("x", (axL + axR) / 2).attr("y", 75)
  .attr("text-anchor", "middle")
  .attr("font-size", 22.5)
  .text(title);

// mathtext-style labels
function mathText(sel, parts, size) {
  let shift = 0;
  parts.forEach((p, i) => {
    const target = p.sub ? size * 0.28 : p.sup ? -size * 0.42 : 0;
    sel.append("tspan")
      .attr("dx", i === 0 ? 0 : (p.gap || 2.2))
      .attr("dy", target - shift)
      .attr("font-size", p.sub || p.sup ? size * 0.7 : size)
      .attr("font-style", p.it ? "italic" : "normal")
      .text(p.t);
    shift = target;
  });
}
const massParts = [
  { t: "M", it: true }, { t: "Dust", it: true, sub: true },
  { t: "(10" }, { t: "\u22124", sup: true },
  { t: "M", it: true }, { t: "sun", it: true, sub: true }, { t: ")" }
];

const xl = svg.append("text")
  .attr("x", (axL + axR) / 2).attr("y", 646)
  .attr("text-anchor", "middle");
mathText(xl, massParts, 17);

const yl = svg.append("text")
  .attr("transform", `translate(71,334) rotate(-90)`)
  .attr("text-anchor", "middle");
mathText(yl, [{ t: "Pred" }, { t: "M", it: true, gap: 8 }].concat(massParts.slice(1)), 17);

// legend
const lg = svg.append("g");
lg.append("rect")
  .attr("x", 136.5).attr("y", 97.5).attr("width", 157).attr("height", 34).attr("rx", 4)
  .attr("fill", "#fff").attr("fill-opacity", 0.8)
  .attr("stroke", "#ccc").attr("stroke-width", 1);
lg.append("circle").attr("cx", 161.5).attr("cy", 114).attr("r", 3.9).attr("fill", blue);
lg.append("text").attr("x", 196.5).attr("y", 114).attr("dy", "0.35em").attr("font-size", 17).text(seriesName);
</script>
</body>
</html>
